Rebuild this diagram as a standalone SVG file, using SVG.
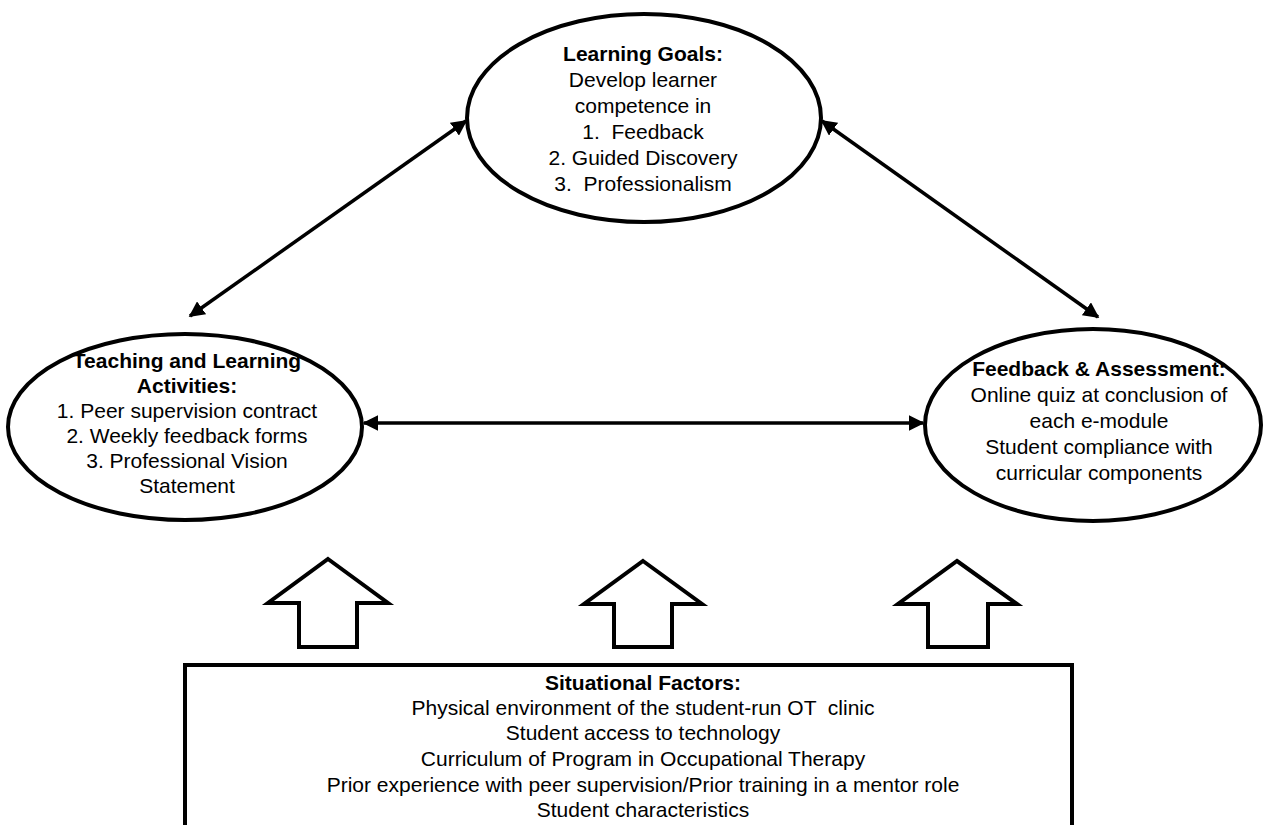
<svg xmlns="http://www.w3.org/2000/svg" width="1264" height="825" viewBox="0 0 1264 825">
<style>
.node{fill:#fff;stroke:#000;stroke-width:4}
.t{font-family:"Liberation Sans",Arial,sans-serif;font-size:21px;fill:#000;text-anchor:middle}
.b{font-weight:bold}
.con{stroke:#000;stroke-width:3.5;fill:none;marker-start:url(#ah);marker-end:url(#ah)}
.up{fill:#fff;stroke:#000;stroke-width:4;stroke-linejoin:miter}
</style>
<defs>
<marker id="ah" viewBox="0 0 10 10" refX="9" refY="5" markerWidth="4.5" markerHeight="4.5" orient="auto-start-reverse" markerUnits="strokeWidth">
<path d="M0,0 L10,5 L0,10 z" fill="#000"/>
</marker>
</defs>
<rect width="1264" height="825" fill="#fff"/>
<g id="connectors">
<line class="con" x1="190" y1="316" x2="466" y2="121"/>
<line class="con" x1="822" y1="121" x2="1098" y2="317"/>
<line class="con" x1="364" y1="423" x2="923" y2="423"/>
</g>
<g id="learning-goals">
<ellipse class="node" cx="644" cy="118" rx="177" ry="104"/>
<text class="t b" x="643" y="61">Learning Goals:</text>
<text class="t" x="643" y="87">Develop learner</text>
<text class="t" x="643" y="113">competence in</text>
<text class="t" x="643" y="139" xml:space="preserve">1.  Feedback</text>
<text class="t" x="643" y="165">2. Guided Discovery</text>
<text class="t" x="643" y="191" xml:space="preserve">3.  Professionalism</text>
</g>
<g id="teaching-activities">
<ellipse class="node" cx="185" cy="427" rx="177" ry="93"/>
<text class="t b" x="187" y="368">Teaching and Learning</text>
<text class="t b" x="187" y="393">Activities:</text>
<text class="t" x="187" y="418">1. Peer supervision contract</text>
<text class="t" x="187" y="443">2. Weekly feedback forms</text>
<text class="t" x="187" y="468">3. Professional Vision</text>
<text class="t" x="187" y="493">Statement</text>
</g>
<g id="feedback-assessment">
<ellipse class="node" cx="1093" cy="425" rx="168" ry="96"/>
<text class="t b" x="1099" y="376">Feedback &amp; Assessment:</text>
<text class="t" x="1099" y="402">Online quiz at conclusion of</text>
<text class="t" x="1099" y="428">each e-module</text>
<text class="t" x="1099" y="454">Student compliance with</text>
<text class="t" x="1099" y="480">curricular components</text>
</g>
<g id="up-arrow-left">
<polygon class="up" points="328,559 388,603 357,603 357,647 299,647 299,603 268,603"/>
</g>
<g id="up-arrow-middle">
<polygon class="up" points="643,561 702,604 672,604 672,647 614,647 614,604 584,604"/>
</g>
<g id="up-arrow-right">
<polygon class="up" points="957,561 1017,604 988,604 988,647 928,647 928,604 898,604"/>
</g>
<g id="situational-factors">
<rect class="node" x="185" y="665" width="887" height="200"/>
<text class="t b" x="643" y="690">Situational Factors:</text>
<text class="t" x="643" y="715" xml:space="preserve">Physical environment of the student-run OT  clinic</text>
<text class="t" x="643" y="740">Student access to technology</text>
<text class="t" x="643" y="766">Curriculum of Program in Occupational Therapy</text>
<text class="t" x="643" y="792">Prior experience with peer supervision/Prior training in a mentor role</text>
<text class="t" x="643" y="817">Student characteristics</text>
</g>
</svg>
